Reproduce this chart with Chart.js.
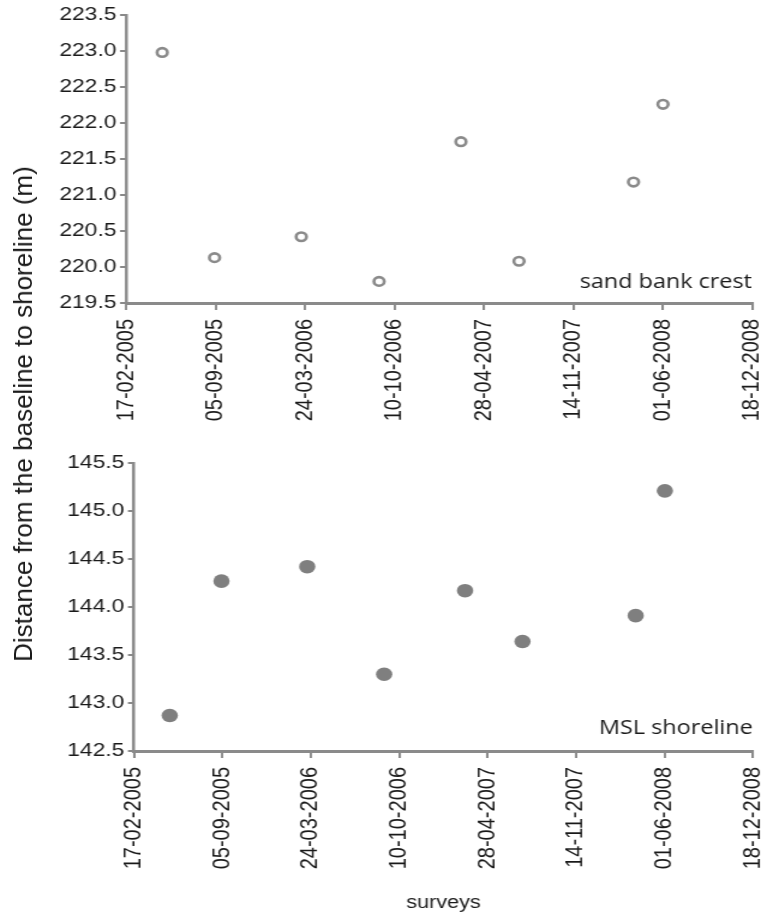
<!DOCTYPE html>
<html>
<head>
<meta charset="utf-8">
<title>Sand bank crest and MSL shoreline</title>
<script src="https://cdn.jsdelivr.net/npm/chart.js@4"></script>
<style>
  body { margin: 0; background: #fff; overflow: hidden; }
  #page { position: relative; width: 761px; height: 912px; overflow: hidden; }
  /* the original figure is stretched sideways, so the charts are drawn narrow and widened */
  #charts { position: absolute; left: 0; top: 0; width: 634px; height: 912px;
            transform: scaleX(1.2003); transform-origin: 0 0; }
  canvas { position: absolute; left: 0; }
  #ytitle {
    position: absolute; left: 23px; top: 414px;
    transform: translate(-50%, -50%) rotate(-90deg);
    font: 26px "Liberation Sans", Arial, sans-serif; line-height: 1;
    white-space: nowrap; color: #1a1a1a;
  }
</style>
</head>
<body>
<div id="page">
  <div id="charts">
    <canvas id="top" width="634" height="440" style="top:0"></canvas>
    <canvas id="bottom" width="634" height="472" style="top:440px"></canvas>
  </div>
  <div id="ytitle">Distance from the baseline to shoreline (m)</div>
</div>
<script>
const surveyDates = ['2005-05-09', '2005-09-03', '2006-03-16', '2006-09-06', '2007-03-08', '2007-07-16', '2008-03-28', '2008-06-02'];
const sandBankCrest = [222.98, 220.13, 220.42, 219.80, 221.74, 220.08, 221.18, 222.26];
const mslShoreline = [142.87, 144.27, 144.42, 143.30, 144.17, 143.64, 143.91, 145.21];
const tickDates = ['2005-02-17', '2005-09-05', '2006-03-24', '2006-10-10', '2007-04-28', '2007-11-14', '2008-06-01', '2008-12-18'];

const AXIS = '#8a8a8a';
const TEXT = '#1a1a1a';
const FONT = '"Liberation Sans", Arial, sans-serif';

function toMs(s) {
  const p = s.split('-').map(Number);
  return Date.UTC(p[0], p[1] - 1, p[2]);
}
function fmt(ms) {
  const d = new Date(ms);
  const dd = String(d.getUTCDate()).padStart(2, '0');
  const mm = String(d.getUTCMonth() + 1).padStart(2, '0');
  return dd + '-' + mm + '-' + d.getUTCFullYear();
}

// label in the lower right corner of each panel
const panelLabel = {
  id: 'panelLabel',
  afterDatasetsDraw(chart, args, opts) {
    const { ctx, chartArea } = chart;
    ctx.save();
    ctx.font = '19.5px "Open Sans", sans-serif';
    ctx.fillStyle = TEXT;
    ctx.textAlign = 'right';
    ctx.textBaseline = 'alphabetic';
    ctx.fillText(opts.text, chartArea.right, chartArea.bottom - opts.dy);
    ctx.restore();
  }
};

function makeChart(id, values, yMin, yMax, opt) {
  const points = surveyDates.map((d, i) => ({ x: toMs(d), y: values[i] }));
  return new Chart(document.getElementById(id), {
    type: 'scatter',
    data: {
      datasets: [{
        data: points,
        pointRadius: opt.radius,
        pointHoverRadius: opt.radius,
        pointBorderWidth: opt.borderWidth,
        pointBorderColor: opt.stroke,
        pointBackgroundColor: opt.fill,
        clip: false
      }]
    },
    options: {
      responsive: false,
      animation: false,
      devicePixelRatio: 1,
      layout: { padding: { top: opt.padTop, right: opt.padRight, left: 0, bottom: 0 } },
      plugins: {
        legend: { display: false },
        tooltip: { enabled: false },
        panelLabel: { text: opt.label, dy: opt.labelDy }
      },
      scales: {
        x: {
          type: 'linear',
          min: toMs(tickDates[0]),
          max: toMs(tickDates[tickDates.length - 1]),
          afterBuildTicks: s => { s.ticks = tickDates.map(d => ({ value: toMs(d) })); },
          afterFit: s => { s.height = opt.xHeight; s.paddingLeft = 0; s.paddingRight = 0; },
          grid: { display: true, drawOnChartArea: false, drawTicks: true, tickLength: 7, color: AXIS, lineWidth: 2 },
          border: { display: true, color: AXIS, width: 3 },
          ticks: {
            autoSkip: false, minRotation: 90, maxRotation: 90, padding: 9,
            color: TEXT, font: { family: FONT, size: 20 },
            callback: v => fmt(v)
          },
          title: {
            display: opt.xTitle, text: 'surveys', color: TEXT,
            font: { family: FONT, size: 18, lineHeight: 1 }, padding: { top: 0, bottom: 0 }
          }
        },
        y: {
          min: yMin, max: yMax,
          afterFit: s => { s.width = opt.yWidth; s.paddingTop = 0; s.paddingBottom = 0; },
          grid: { display: true, drawOnChartArea: false, drawTicks: true, tickLength: 5, color: AXIS, lineWidth: 2 },
          border: { display: true, color: AXIS, width: 2.5 },
          ticks: {
            stepSize: 0.5, padding: 3, color: TEXT, font: { family: FONT, size: 19 },
            callback: v => v.toFixed(1)
          }
        }
      }
    },
    plugins: [panelLabel]
  });
}

makeChart('top', sandBankCrest, 219.5, 223.5, {
  radius: 4.3, borderWidth: 2.6, stroke: '#8a8a8a', fill: '#ffffff',
  padTop: 15, padRight: 7.5, yWidth: 105, xHeight: 137,
  label: 'sand bank crest', labelDy: 15, xTitle: false
});

makeChart('bottom', mslShoreline, 142.5, 145.5, {
  radius: 6.8, borderWidth: 0, stroke: '#7f7f7f', fill: '#7f7f7f',
  padTop: 23, padRight: 1.7, yWidth: 111.6, xHeight: 161,
  label: 'MSL shoreline', labelDy: 17, xTitle: true
});
</script>
</body>
</html>
